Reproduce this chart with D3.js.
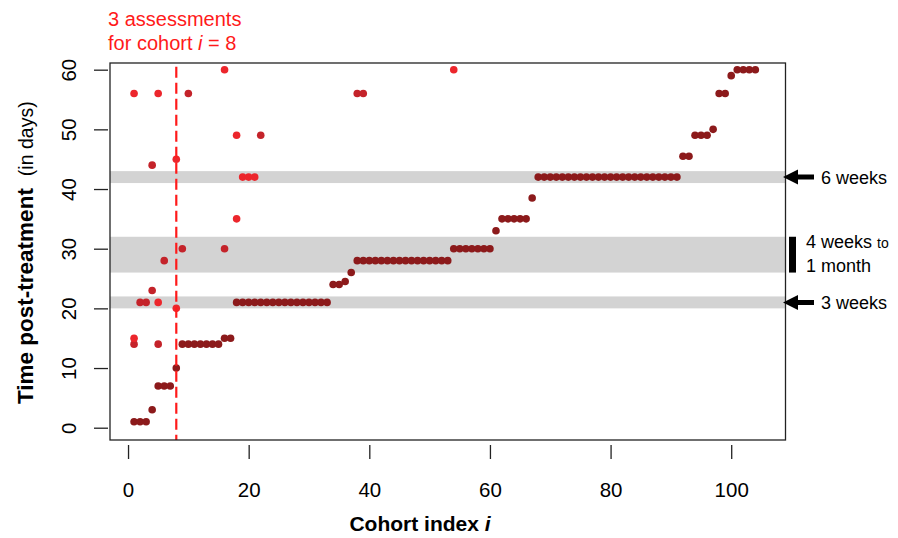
<!DOCTYPE html>
<html lang="en">
<head>
    <meta charset="UTF-8">
    <title>Assessment times per cohort</title>
    <script src="https://d3js.org/d3.v7.min.js"></script>
    <style>
        body { margin: 0; background: #fff; }
        svg { display: block; font-family: "Liberation Sans", Arial, sans-serif; }
    </style>
</head>
<body>
    <div id="chart"></div>
    <script>
        // first assessment (days) for cohorts i = 1..104
        var firstDays = [1, 1, 1, 3, 7, 7, 7, 10, 14, 14, 14, 14, 14, 14, 14, 15, 15,
            21, 21, 21, 21, 21, 21, 21, 21, 21, 21, 21, 21, 21, 21, 21, 21,
            24, 24, 24.5, 26,
            28, 28, 28, 28, 28, 28, 28, 28, 28, 28, 28, 28, 28, 28, 28, 28,
            30, 30, 30, 30, 30, 30, 30,
            33, 35, 35, 35, 35, 35, 38.5,
            42, 42, 42, 42, 42, 42, 42, 42, 42, 42, 42, 42, 42, 42, 42, 42, 42, 42, 42, 42, 42, 42, 42, 42,
            45.5, 45.5, 49, 49, 49, 50, 56, 56, 59, 60, 60, 60, 60];

        // later assessments: cohort, day, shade (m = second tone, b = bright)
        var laterCohort = [1, 1, 1, 2, 3, 4, 4, 5, 5, 5, 6, 8, 8, 9, 10, 16, 16, 18, 18, 19, 20, 21, 22, 38, 39, 54];
        var laterDays = [14, 15, 56, 21, 21, 23, 44, 14, 21, 56, 28, 20, 45, 30, 56, 30, 60, 35, 49, 42, 42, 42, 49, 56, 56, 60];
        var laterShade = ['m', 'b', 'b', 'm', 'm', 'm', 'm', 'm', 'b', 'b', 'm', 'b', 'b', 'm', 'm', 'm', 'b', 'b', 'b', 'b', 'b', 'b', 'm', 'm', 'm', 'b'];

        var bandLow = [41, 26, 20];
        var bandHigh = [43, 32, 22];
        var xTicks = [0, 20, 40, 60, 80, 100];
        var yTicks = [0, 10, 20, 30, 40, 50, 60];
        var markedCohort = 8;

        var width = 898;
        var height = 538;
        var plotLeft = 110, plotRight = 785.5, plotTop = 63, plotBottom = 440;

        var svg = d3.select('#chart')
            .append('svg')
            .attr('width', width)
            .attr('height', height);

        var x = d3.scaleLinear().domain([-2.99, 109.0]).range([plotLeft, plotRight]);
        var y = d3.scaleLinear().domain([-2.06, 61.12]).range([plotBottom, plotTop]);

        var colors = { d: '#8c1a1b', m: '#c4232a', b: '#ec262c' };

        // grey bands
        svg.append('g').selectAll('rect')
            .data(bandLow)
            .enter()
            .append('rect')
            .attr('x', plotLeft)
            .attr('width', plotRight - plotLeft)
            .attr('y', function (d, i) { return y(bandHigh[i]); })
            .attr('height', function (d, i) { return y(d) - y(bandHigh[i]); })
            .attr('fill', '#d3d3d3');

        // points
        var pts = [];
        firstDays.forEach(function (v, i) { pts.push({ i: i + 1, v: v, s: 'd' }); });
        laterCohort.forEach(function (c, k) { pts.push({ i: c, v: laterDays[k], s: laterShade[k] }); });

        svg.append('g').selectAll('circle')
            .data(pts)
            .enter()
            .append('circle')
            .attr('cx', function (d) { return x(d.i); })
            .attr('cy', function (d) { return y(d.v); })
            .attr('r', 3.8)
            .attr('fill', function (d) { return colors[d.s]; });

        // dashed marker line
        svg.append('line')
            .attr('x1', x(markedCohort)).attr('x2', x(markedCohort))
            .attr('y1', y(60) - 3).attr('y2', plotBottom)
            .attr('stroke', '#ff1a1a')
            .attr('stroke-width', 2.2)
            .attr('stroke-dasharray', '11,5');

        // box
        svg.append('rect')
            .attr('x', plotLeft).attr('y', plotTop)
            .attr('width', plotRight - plotLeft).attr('height', plotBottom - plotTop)
            .attr('fill', 'none')
            .attr('stroke', '#222')
            .attr('stroke-width', 1.3);

        // axes
        var xAxis = d3.axisBottom(x).tickValues(xTicks).tickSize(14).tickFormat(d3.format('d'));
        var gx = svg.append('g')
            .attr('transform', 'translate(0,' + (plotBottom + 5) + ')')
            .call(xAxis);
        gx.select('.domain').remove();
        gx.selectAll('line').attr('stroke', '#222').attr('stroke-width', 1.3);
        gx.selectAll('text')
            .attr('y', 45).attr('dy', '0.35em')
            .attr('font-size', 20.5).attr('fill', '#000')
            .style('font-family', '"Liberation Sans", Arial, sans-serif');

        var yAxis = d3.axisLeft(y).tickValues(yTicks).tickSize(14);
        var gy = svg.append('g')
            .attr('transform', 'translate(' + (plotLeft - 2) + ',0)')
            .call(yAxis);
        gy.select('.domain').remove();
        gy.selectAll('line').attr('stroke', '#222').attr('stroke-width', 1.3);
        gy.selectAll('text')
            .attr('x', 0).attr('dy', 0)
            .attr('text-anchor', 'middle')
            .attr('transform', 'translate(-32,0) rotate(-90)')
            .attr('font-size', 20.5).attr('fill', '#000')
            .style('font-family', '"Liberation Sans", Arial, sans-serif');

        // axis titles
        var xt = svg.append('text')
            .attr('x', 420).attr('y', 531)
            .attr('text-anchor', 'middle')
            .attr('font-size', 21).attr('font-weight', 'bold');
        xt.append('tspan').text('Cohort index ');
        xt.append('tspan').attr('font-style', 'italic').text('i');

        var yt = svg.append('text')
            .attr('transform', 'translate(33,404) rotate(-90)')
            .attr('font-size', 22.5);
        yt.append('tspan').attr('font-weight', 'bold').text('Time post-treatment');
        yt.append('tspan').attr('font-size', 19.5).attr('dx', 12).text('(in days)');

        // annotation above the plot
        svg.append('text')
            .attr('x', 108).attr('y', 26)
            .attr('font-size', 20).attr('fill', '#ff1a1a')
            .text('3 assessments');
        var an = svg.append('text')
            .attr('x', 108).attr('y', 50)
            .attr('font-size', 20).attr('fill', '#ff1a1a');
        an.append('tspan').text('for cohort ');
        an.append('tspan').attr('font-style', 'italic').text('i');
        an.append('tspan').text(' = ' + markedCohort);

        // right side annotations
        function arrow(v) {
            var yc = y(v);
            var p = d3.path();
            p.moveTo(783, yc);
            p.lineTo(798, yc - 7.5);
            p.lineTo(798, yc - 2.5);
            p.lineTo(814, yc - 2.5);
            p.lineTo(814, yc + 2.5);
            p.lineTo(798, yc + 2.5);
            p.lineTo(798, yc + 7.5);
            p.closePath();
            svg.append('path').attr('d', p.toString()).attr('fill', '#000');
        }
        arrow(42);
        arrow(21);

        svg.append('rect')
            .attr('x', 789).attr('width', 7)
            .attr('y', y(32)).attr('height', y(26) - y(32))
            .attr('fill', '#000');

        svg.append('text').attr('x', 821).attr('y', y(42) + 6.5)
            .attr('font-size', 18).text('6 weeks');
        svg.append('text').attr('x', 821).attr('y', y(21) + 6.5)
            .attr('font-size', 18).text('3 weeks');
        var w4 = svg.append('text').attr('x', 806).attr('y', 248)
            .attr('font-size', 18);
        w4.append('tspan').text('4 weeks ');
        w4.append('tspan').attr('font-size', 14).text('to');
        svg.append('text').attr('x', 806).attr('y', 272)
            .attr('font-size', 18).text('1 month');
    </script>
</body>
</html>
